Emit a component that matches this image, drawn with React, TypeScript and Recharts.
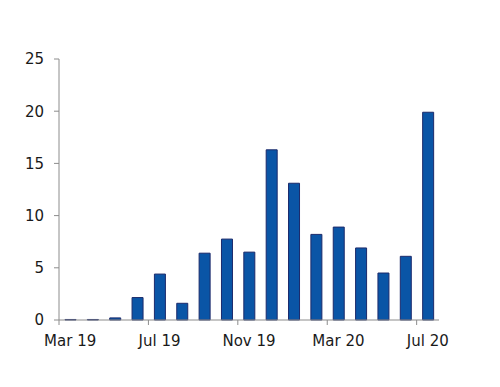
import { BarChart, Bar, XAxis, YAxis } from "recharts";

const months = [
    "Mar 19", "Apr 19", "May 19", "Jun 19", "Jul 19", "Aug 19", "Sep 19", "Oct 19", "Nov 19",
    "Dec 19", "Jan 20", "Feb 20", "Mar 20", "Apr 20", "May 20", "Jun 20", "Jul 20",
];
const values = [0.05, 0.05, 0.2, 2.15, 4.4, 1.6, 6.4, 7.75, 6.5, 16.3, 13.1, 8.2, 8.9, 6.9, 4.5, 6.1, 19.9];
const yTicks = [0, 5, 10, 15, 20, 25];

const data = months.map((month, i) => ({ month, value: values[i] }));

const FONT = "DejaVu Sans, sans-serif";
const AXIS = "#8c8c8c";

// labels sit under the bar, tick marks sit on the category boundary (Excel style)
const MonthTick = (props: any) => {
    const { x, y, payload } = props;
    const half = 380 / months.length / 2;
    return (
        <g>
            <line x1={x - half} y1={y} x2={x - half} y2={y + 5} stroke={AXIS} />
            <text x={x} y={y + 26} textAnchor="middle" fontFamily={FONT} fontSize={15} fill="#1a1a1a">
                {payload.value}
            </text>
        </g>
    );
};

export default function App() {
    return (
        <div style={{ position: "absolute", left: 0, top: 0, background: "#fff" }}>
            <BarChart
                width={500}
                height={387}
                data={data}
                margin={{ top: 59, right: 61, left: 0, bottom: 37 }}
                barSize={11}
            >
                <XAxis
                    dataKey="month"
                    interval={3}
                    tickLine={false}
                    tickSize={0}
                    tickMargin={0}
                    height={30}
                    stroke={AXIS}
                    tick={<MonthTick />}
                />
                <YAxis
                    domain={[0, 25]}
                    ticks={yTicks}
                    width={59}
                    tickSize={5}
                    tickMargin={10}
                    stroke={AXIS}
                    tick={{ fontFamily: FONT, fontSize: 15, fill: "#1a1a1a" }}
                />
                <Bar
                    dataKey="value"
                    fill="#0a55a6"
                    stroke="#1c2a6b"
                    strokeWidth={1}
                    isAnimationActive={false}
                />
            </BarChart>
        </div>
    );
}
